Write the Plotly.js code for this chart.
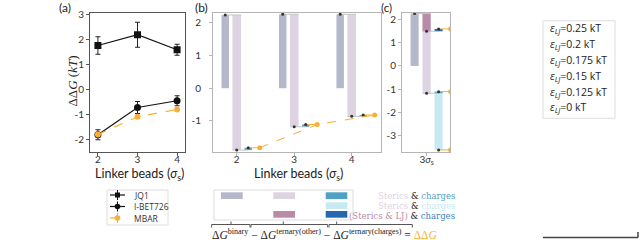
<!DOCTYPE html>
<html>
<head>
<meta charset="utf-8">
<script src="https://cdn.plot.ly/plotly-3.0.1.min.js"></script>
<style>html,body{margin:0;padding:0;background:#fff;}#chart{width:640px;height:240px;}</style>
</head>
<body>
<div id="chart"></div>
<script>
// ---------- data ----------
const linkerBeads = [2, 3, 4];
const jq1 = [1.74, 2.17, 1.57];
const jq1Err = [0.35, 0.5, 0.22];
const ibet726 = [-1.83, -0.74, -0.47];
const ibet726Err = [0.2, 0.24, 0.2];
const mbar = [-1.82, -1.11, -0.82];
const mbarErr = [0.04, 0.04, 0.04];

// panel (b): waterfall ΔG binary - ΔG ternary(other) - ΔG ternary(charges) = ΔΔG
const dGbinary = [2.24, 2.26, 2.26];
const dGternaryOther = [4.13, 3.44, 3.12];

// panel (c)
const cCategory = [3];
const cTickLabel = ['3<i>σ</i><sub>s</sub>'];
const cBinary = [2.27];
const cOtherSterics = [3.45];
const cOtherStericsLJ = [0.77];
const cDDGStericsCharges = [-1.11];
const cDDGStericsChargesStar = [-3.63];
const cDDGStericsLJCharges = [1.6];

const epsLabels = ['0.25', '0.2', '0.175', '0.15', '0.125', '0'];

// ---------- styles ----------
const C = {
  binary: '#b5b8ca', other: '#ddd3e2', charges: '#4ea2c3', cyan: '#c6e9f4',
  mauve: '#ba8aa9', dblue: '#2467b1', orange: '#f7b035', gray: '#c4c4c4', mark: '#333'
};
const W = 640, H = 240;
const PX = x => x / W, PY = y => 1 - y / H;

const traces = [];
// ---- panel (a)
traces.push({x: linkerBeads, y: jq1, error_y: {type: 'data', array: jq1Err, color: '#222', thickness: 1, width: 2.5},
  mode: 'lines+markers', line: {color: '#111', width: 1.2}, marker: {symbol: 'square', size: 7, color: '#111'},
  xaxis: 'x', yaxis: 'y', name: 'JQ1'});
traces.push({x: linkerBeads, y: ibet726, error_y: {type: 'data', array: ibet726Err, color: '#222', thickness: 1, width: 2.5},
  mode: 'lines+markers', line: {color: '#111', width: 1.2}, marker: {symbol: 'circle', size: 7, color: '#111'},
  xaxis: 'x', yaxis: 'y', name: 'I-BET726'});
traces.push({x: linkerBeads, y: mbar, error_y: {type: 'data', array: mbarErr, color: C.orange, thickness: 1, width: 2},
  mode: 'lines+markers', line: {color: C.orange, width: 1.2, dash: 'dash'}, marker: {symbol: 'circle', size: 6, color: C.orange},
  xaxis: 'x', yaxis: 'y', name: 'MBAR'});

// ---- panel (b)
const endOther = dGbinary.map((b, i) => b - dGternaryOther[i]);
traces.push({type: 'bar', x: linkerBeads, y: dGbinary, base: 0, width: 0.13, offset: -0.265,
  marker: {color: C.binary}, xaxis: 'x2', yaxis: 'y2'});
traces.push({type: 'bar', x: linkerBeads, y: dGternaryOther.map(v => -v), base: dGbinary, width: 0.15, offset: -0.075,
  marker: {color: C.other}, xaxis: 'x2', yaxis: 'y2'});
traces.push({type: 'bar', x: linkerBeads, y: mbar.map((m, i) => m - endOther[i]), base: endOther, width: 0.13, offset: 0.135,
  marker: {color: C.charges}, xaxis: 'x2', yaxis: 'y2'});
// connectors
(function () {
  const gx = [], gy = [], ox = [], oy = [];
  linkerBeads.forEach((l, i) => {
    gx.push(l - 0.2, l + 0.075, null, l - 0.075, l + 0.2, null);
    gy.push(dGbinary[i], dGbinary[i], null, endOther[i], endOther[i], null);
    ox.push(l + 0.2, l + 0.4, null);
    oy.push(mbar[i], mbar[i], null);
  });
  traces.push({x: gx, y: gy, mode: 'lines', line: {color: C.gray, width: 1}, xaxis: 'x2', yaxis: 'y2'});
  traces.push({x: ox, y: oy, mode: 'lines', line: {color: C.orange, width: 1}, xaxis: 'x2', yaxis: 'y2'});
  const mx = [], my = [];
  linkerBeads.forEach((l, i) => { mx.push(l - 0.2, l, l + 0.2); my.push(dGbinary[i], endOther[i], mbar[i]); });
  traces.push({x: mx, y: my, mode: 'markers', marker: {size: 3, color: C.mark}, xaxis: 'x2', yaxis: 'y2'});
})();
traces.push({x: linkerBeads.map(l => l + 0.4), y: mbar, mode: 'lines+markers',
  line: {color: C.orange, width: 1, dash: 'dash'}, marker: {size: 5, color: C.orange}, xaxis: 'x2', yaxis: 'y2'});

// ---- panel (c)
const cEndS = cBinary.map((b, i) => b - cOtherSterics[i]);
const cEndLJ = cBinary.map((b, i) => b - cOtherStericsLJ[i]);
traces.push({type: 'bar', x: cCategory, y: cBinary, base: 0, width: 0.135, offset: -0.2675,
  marker: {color: C.binary}, xaxis: 'x3', yaxis: 'y3'});
traces.push({type: 'bar', x: cCategory, y: cOtherSterics.map(v => -v), base: cBinary, width: 0.135, offset: -0.0675,
  marker: {color: C.other}, xaxis: 'x3', yaxis: 'y3'});
traces.push({type: 'bar', x: cCategory, y: cOtherStericsLJ.map(v => -v), base: cBinary, width: 0.135, offset: -0.0675,
  marker: {color: C.mauve}, xaxis: 'x3', yaxis: 'y3'});
traces.push({type: 'bar', x: cCategory, y: cDDGStericsChargesStar.map((d, i) => d - cEndS[i]), base: cEndS, width: 0.135, offset: 0.1325,
  marker: {color: C.cyan}, xaxis: 'x3', yaxis: 'y3'});
traces.push({type: 'bar', x: cCategory, y: cDDGStericsCharges.map((d, i) => d - cEndS[i]), base: cEndS, width: 0.135, offset: 0.1325,
  marker: {color: C.charges}, xaxis: 'x3', yaxis: 'y3'});
traces.push({type: 'bar', x: cCategory, y: cDDGStericsLJCharges.map((d, i) => d - cEndLJ[i]), base: cEndLJ, width: 0.135, offset: 0.1325,
  marker: {color: C.dblue}, xaxis: 'x3', yaxis: 'y3'});
(function () {
  const gx = [], gy = [], ox = [], oy = [], mx = [], my = [], px = [], py = [];
  cCategory.forEach((c, i) => {
    gx.push(c - 0.2, c + 0.07, null, c - 0.07, c + 0.2, null, c - 0.07, c + 0.2, null);
    gy.push(cBinary[i], cBinary[i], null, cEndS[i], cEndS[i], null, cEndLJ[i], cEndLJ[i], null);
    [cDDGStericsLJCharges[i], cDDGStericsCharges[i], cDDGStericsChargesStar[i]].forEach(d => {
      ox.push(c + 0.2, c + 0.4, null); oy.push(d, d, null);
      px.push(c + 0.4); py.push(d);
      mx.push(c + 0.2); my.push(d);
    });
    mx.push(c - 0.2, c, c); my.push(cBinary[i], cEndS[i], cEndLJ[i]);
  });
  traces.push({x: gx, y: gy, mode: 'lines', line: {color: C.gray, width: 1}, xaxis: 'x3', yaxis: 'y3'});
  traces.push({x: ox, y: oy, mode: 'lines', line: {color: C.orange, width: 1}, xaxis: 'x3', yaxis: 'y3'});
  traces.push({x: px, y: py, mode: 'markers', marker: {size: 5, color: C.orange}, xaxis: 'x3', yaxis: 'y3'});
  traces.push({x: mx, y: my, mode: 'markers', marker: {size: 3, color: C.mark}, xaxis: 'x3', yaxis: 'y3'});
})();
traces.forEach(t => { t.showlegend = false; t.hoverinfo = 'skip'; });

// ---------- axes ----------
const tickFont = {family: 'Lato, sans-serif', size: 10, color: '#333'};
const yDom = [PY(152), PY(13)];
function ax(domain, range, vals, text, lc, extra) {
  return Object.assign({domain, range, tickvals: vals, ticktext: text, ticks: 'outside', ticklen: 3,
    tickcolor: lc, showline: true, linecolor: lc, linewidth: 1, mirror: true, showgrid: false, zeroline: false,
    tickfont: tickFont, fixedrange: true}, extra || {});
}
const layout = {
  width: W, height: H, margin: {l: 0, r: 0, t: 0, b: 0}, paper_bgcolor: '#fff', plot_bgcolor: '#fff',
  barmode: 'overlay', showlegend: false,
  xaxis: ax([PX(90), PX(185)], [1.8, 4.2], linkerBeads, linkerBeads.map(String), '#555', {anchor: 'y', ticklabelstandoff: -5}),
  yaxis: ax(yDom, [-2.52, 3.04], [-2, -1, 0, 1, 2, 3], ['-2', '-1', '0', '1', '2', '3'], '#555', {anchor: 'x'}),
  xaxis2: ax([PX(213), PX(381)], [1.587, 4.51], linkerBeads, linkerBeads.map(String), '#b5b5b5', {anchor: 'y2', ticklabelstandoff: -5}),
  yaxis2: ax(yDom, [-1.95, 2.30], [-1, 0, 1, 2], ['-1', '0', '1', '2'], '#b5b5b5', {anchor: 'x2', ticklabelstandoff: 6}),
  xaxis3: ax([PX(402), PX(450)], [2.59, 3.39], cCategory, cTickLabel, '#b5b5b5', {anchor: 'y3', ticklabelstandoff: -5}),
  yaxis3: ax(yDom, [-3.72, 2.29], [-3, -2, -1, 0, 1, 2], ['-3', '-2', '-1', '0', '1', '2'], '#b5b5b5', {anchor: 'x3'}),
  annotations: [], shapes: []
};

function ann(x, y, text, o) {
  layout.annotations.push(Object.assign({xref: 'paper', yref: 'paper', x: PX(x), y: PY(y), text, showarrow: false,
    xanchor: 'center', yanchor: 'middle', font: {family: 'Lato, sans-serif', size: 12, color: '#222'}}, o || {}));
}
function rect(x0, y0, x1, y1, fill, lc) {
  layout.shapes.push({type: 'rect', xref: 'paper', yref: 'paper', x0: PX(x0), x1: PX(x1), y0: PY(y0), y1: PY(y1),
    fillcolor: fill || 'rgba(0,0,0,0)', line: {color: lc || 'rgba(0,0,0,0)', width: lc ? 1 : 0}});
}
function seg(x0, y0, x1, y1, color, width, dash) {
  layout.shapes.push({type: 'line', xref: 'paper', yref: 'paper', x0: PX(x0), x1: PX(x1), y0: PY(y0), y1: PY(y1),
    line: {color, width: width || 1, dash: dash || 'solid'}});
}
function circ(cx, cy, r, fill) {
  layout.shapes.push({type: 'circle', xref: 'paper', yref: 'paper', x0: PX(cx - r), x1: PX(cx + r), y0: PY(cy + r), y1: PY(cy - r),
    fillcolor: fill, line: {color: fill, width: 0}});
}

// panel labels & titles
const lblFont = {family: 'Lato, sans-serif', size: 12, color: '#222'};
ann(64.5, 7.5, '(a)', {font: lblFont});
ann(201, 7.5, '(b)', {font: lblFont});
ann(386, 7, '(c)', {font: {family: 'Lato, sans-serif', size: 11.5, color: '#222'}});
const ttlFont = {family: 'Lato, sans-serif', size: 12.5, color: '#222'};
ann(139, 174.5, 'Linker beads (<i>σ</i><sub>s</sub>)', {font: ttlFont});
ann(298, 174.5, 'Linker beads (<i>σ</i><sub>s</sub>)', {font: ttlFont});
ann(71.5, 81, 'ΔΔ<i>G</i> (<i>kT</i>)', {textangle: -90, font: {family: 'Liberation Serif, serif', size: 13, color: '#222'}});

// legend (a)
rect(107, 190, 168, 225, null, '#dddddd');
const legRows = [195, 206.5, 218];
const legNames = ['JQ1', 'I-BET726', 'MBAR'];
legRows.forEach((y, i) => {
  const col = i < 2 ? '#111' : C.orange;
  seg(110, y, 125, y, col, 1.2, i < 2 ? 'solid' : 'dash');
  seg(117.5, y - 5, 117.5, y + 5, col, 1);
  if (i === 0) rect(115, y - 2.5, 120, y + 2.5, col);
  else circ(117.5, y, 2.8, col);
  ann(132, y, legNames[i], {xanchor: 'left', font: {family: 'Open Sans, sans-serif', size: 8.5, color: '#333'}});
});

// ε_LJ legend
rect(543, 20.7, 615, 118.3, null, '#dddddd');
[28, 44, 60, 76, 92, 108].forEach((y, i) => {
  ann(548, y, '<i>ε</i><sub><i>LJ</i></sub>=' + epsLabels[i] + ' kT', {xanchor: 'left', font: {family: 'Open Sans, sans-serif', size: 10.5, color: '#222'}});
});

// ΔG legend
rect(214, 190, 353, 220, null, '#dddddd');
rect(221, 192.3, 242.7, 199, C.binary);
rect(273.3, 192.3, 295, 199, C.other);
rect(325.7, 192.3, 347.3, 199, C.charges);
rect(325.7, 202.3, 347.3, 209, C.cyan);
rect(273.3, 211, 295, 217.7, C.mauve);
rect(325.7, 211, 347.3, 217.7, C.dblue);
const serif = {family: 'DejaVu Serif, serif', size: 8.5, color: '#222'};
ann(457, 196, '<span style="color:' + C.other + '">Sterics</span> &amp; <span style="color:' + C.charges + '">charges</span>', {xanchor: 'right', font: serif});
ann(457, 206, '<span style="color:' + C.other + '">Sterics</span> &amp; <span style="color:' + C.cyan + '">charges</span>', {xanchor: 'right', font: serif});
ann(457, 216, '<span style="color:' + C.mauve + '">(Sterics &amp; LJ)</span> &amp; <span style="color:#3d7fc2">charges</span>', {xanchor: 'right', font: serif});
// brackets
[[211.7, 250, 231], [251, 327.7, 283.3], [329, 412.3, 336.7]].forEach(b => {
  seg(b[0], 224.5, b[1], 224.5, '#555', 1);
  seg(b[0], 224.5, b[0], 227.5, '#555', 1);
  seg(b[1], 224.5, b[1], 227.5, '#555', 1);
  seg(b[2], 221.5, b[2], 224.5, '#555', 1);
});
ann(210, 233.5, 'Δ<i>G</i><sup>binary</sup> − Δ<i>G</i><sup>ternary(other)</sup> − Δ<i>G</i><sup>ternary(charges)</sup> = <span style="color:' + C.orange + '">ΔΔ<i>G</i></span>',
  {xanchor: 'left', font: {family: 'Liberation Serif, serif', size: 11.5, color: '#222'}});

// bottom-right line
seg(543, 237.5, 638, 237.5, '#444', 1.5);
seg(638, 232, 638, 237.5, '#444', 1.5);

Plotly.newPlot('chart', traces, layout, {displayModeBar: false, staticPlot: true});
</script>
</body>
</html>
